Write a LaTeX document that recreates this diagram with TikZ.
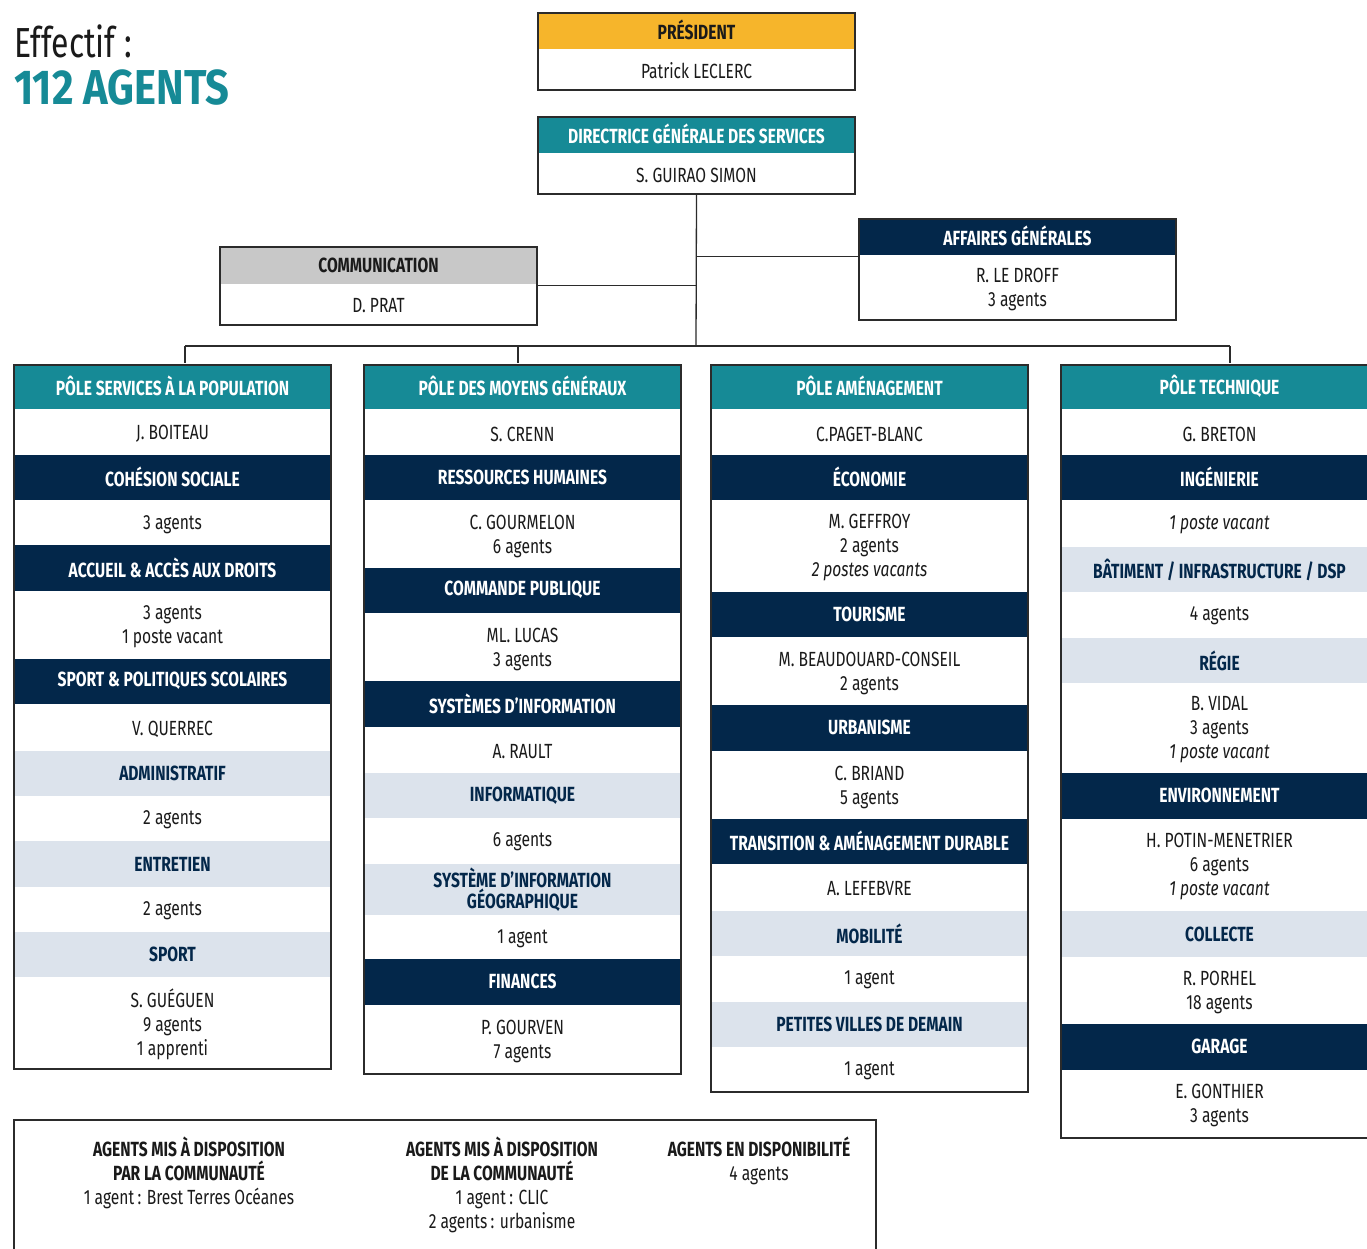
\documentclass[tikz,border=0pt]{standalone}
\usepackage{fontspec}
\setmainfont{Fira Sans}[FakeStretch=0.76]
\newfontfamily\titlefont{Fira Sans}[FakeStretch=0.85]
\definecolor{cteal}{HTML}{168A96}
\definecolor{cnavy}{HTML}{03274A}
\definecolor{clight}{HTML}{DCE3EC}
\definecolor{cyel}{HTML}{F6B52B}
\definecolor{cgrey}{HTML}{C8C8C8}
\definecolor{ctext}{HTML}{1A1A1A}
\definecolor{cline}{HTML}{2B2B2B}
\tikzset{
  rowbase/.style={inner sep=0pt, minimum width=317pt, align=center, font=\fontsize{20.5}{24}\selectfont},
  tealrow/.style={rowbase, fill=cteal, text=white, font=\fontsize{20.5}{24}\selectfont\bfseries, yshift=1.5pt},
  navyrow/.style={rowbase, fill=cnavy, text=white, font=\fontsize{20.5}{24}\selectfont\bfseries, yshift=1.5pt},
  lightrow/.style={rowbase, fill=clight, text=cnavy, font=\fontsize{20.5}{21}\selectfont\bfseries},
  whiterow/.style={rowbase, fill=white, text=ctext, yshift=-1pt},
  yelrow/.style={rowbase, fill=cyel, text=ctext, font=\fontsize{20.5}{24}\selectfont\bfseries, yshift=1.5pt},
  greyrow/.style={rowbase, fill=cgrey, text=ctext, font=\fontsize{20.5}{24}\selectfont\bfseries, yshift=1pt},
  frame/.style={draw=cline, line width=1.3pt},
  conn/.style={draw=cline, line width=1.3pt},
  foot/.style={inner sep=0pt, anchor=north, align=center, text=ctext, font=\fontsize{20.5}{24}\selectfont}
}
\newcommand\orow[6]{\node[#2, minimum height={(#5-#4)*1pt}] (#1) at ({#3+158.5},{(#4+#5)/2}) {#6};}
\begin{document}
\begin{tikzpicture}[x=1pt,y=-1pt]
\clip (0,0) rectangle (1367,1248);
\fill[white] (0,0) rectangle (1367,1248);

% title
\node[anchor=base west, inner sep=0pt, font=\fontsize{42}{48}\selectfont, text=ctext] (eff) at (14,57) {Effectif :};
\node[anchor=base west, inner sep=0pt, font=\titlefont\fontsize{49}{54}\selectfont\bfseries, text=cteal] (tot) at (14,104) {112 AGENTS};

% president
\orow{pres}{yelrow}{538}{13}{50}{PRÉSIDENT}
\orow{presn}{whiterow}{538}{50}{90}{Patrick LECLERC}
\draw[frame] (538,13) rectangle (855,90);
% DGS
\orow{dgs}{tealrow}{538}{117}{154}{DIRECTRICE GÉNÉRALE DES SERVICES}
\orow{dgsn}{whiterow}{538}{154}{194}{S. GUIRAO SIMON}
\draw[frame] (538,117) rectangle (855,194);
% communication
\orow{com}{greyrow}{220}{247}{285}{COMMUNICATION}
\orow{comn}{whiterow}{220}{285}{325}{D. PRAT}
\draw[frame] (220,247) rectangle (537,325);
% affaires generales
\orow{ag}{navyrow}{859}{219}{256}{AFFAIRES GÉNÉRALES}
\orow{agn}{whiterow}{859}{256}{320}{R. LE DROFF\\3 agents}
\draw[frame] (859,219) rectangle (1176,320);

% column 1
\orow{p1}{tealrow}{14}{365}{410}{PÔLE SERVICES À LA POPULATION}
\orow{p1a}{whiterow}{14}{410}{456}{J. BOITEAU}
\orow{p1b}{navyrow}{14}{456}{501}{COHÉSION SOCIALE}
\orow{p1c}{whiterow}{14}{501}{546}{3 agents}
\orow{p1d}{navyrow}{14}{546}{592}{ACCUEIL \& ACCÈS AUX DROITS}
\orow{p1e}{whiterow}{14}{592}{660}{3 agents\\1 poste vacant}
\orow{p1f}{navyrow}{14}{660}{705}{SPORT \& POLITIQUES SCOLAIRES}
\orow{p1g}{whiterow}{14}{705}{751}{V. QUERREC}
\orow{p1h}{lightrow}{14}{751}{796}{ADMINISTRATIF}
\orow{p1i}{whiterow}{14}{796}{841}{2 agents}
\orow{p1j}{lightrow}{14}{841}{887}{ENTRETIEN}
\orow{p1k}{whiterow}{14}{887}{932}{2 agents}
\orow{p1l}{lightrow}{14}{932}{977}{SPORT}
\orow{p1m}{whiterow}{14}{977}{1069}{S. GUÉGUEN\\9 agents\\1 apprenti}
\draw[frame] (14,365) rectangle (331,1069);

% column 2
\orow{p2}{tealrow}{364}{365}{410}{PÔLE DES MOYENS GÉNÉRAUX}
\orow{p2a}{whiterow}{364}{410}{456}{S. CRENN}
\orow{p2b}{navyrow}{364}{456}{501}{RESSOURCES HUMAINES}
\orow{p2c}{whiterow}{364}{501}{569}{C. GOURMELON\\6 agents}
\orow{p2d}{navyrow}{364}{569}{614}{COMMANDE PUBLIQUE}
\orow{p2e}{whiterow}{364}{614}{682}{ML. LUCAS\\3 agents}
\orow{p2f}{navyrow}{364}{682}{728}{SYSTÈMES D’INFORMATION}
\orow{p2g}{whiterow}{364}{728}{773}{A. RAULT}
\orow{p2h}{lightrow}{364}{773}{818}{INFORMATIQUE}
\orow{p2i}{whiterow}{364}{818}{864}{6 agents}
\orow{p2j}{lightrow}{364}{864}{915}{SYSTÈME D’INFORMATION\\GÉOGRAPHIQUE}
\orow{p2k}{whiterow}{364}{915}{960}{1 agent}
\orow{p2l}{navyrow}{364}{960}{1006}{FINANCES}
\orow{p2m}{whiterow}{364}{1006}{1074}{P. GOURVEN\\7 agents}
\draw[frame] (364,365) rectangle (681,1074);

% column 3
\orow{p3}{tealrow}{711}{365}{410}{PÔLE AMÉNAGEMENT}
\orow{p3a}{whiterow}{711}{410}{456}{C.PAGET-BLANC}
\orow{p3b}{navyrow}{711}{456}{501}{ÉCONOMIE}
\orow{p3c}{whiterow}{711}{501}{593}{M. GEFFROY\\2 agents\\\textit{2 postes vacants}}
\orow{p3d}{navyrow}{711}{593}{638}{TOURISME}
\orow{p3e}{whiterow}{711}{638}{706}{M. BEAUDOUARD-CONSEIL\\2 agents}
\orow{p3f}{navyrow}{711}{706}{752}{URBANISME}
\orow{p3g}{whiterow}{711}{752}{820}{C. BRIAND\\5 agents}
\orow{p3h}{navyrow}{711}{820}{865}{TRANSITION \& AMÉNAGEMENT DURABLE}
\orow{p3i}{whiterow}{711}{865}{911}{A. LEFEBVRE}
\orow{p3j}{lightrow}{711}{911}{956}{MOBILITÉ}
\orow{p3k}{whiterow}{711}{956}{1002}{1 agent}
\orow{p3l}{lightrow}{711}{1002}{1047}{PETITES VILLES DE DEMAIN}
\orow{p3m}{whiterow}{711}{1047}{1092}{1 agent}
\draw[frame] (711,365) rectangle (1028,1092);

% column 4
\orow{p4}{tealrow}{1061}{365}{410}{PÔLE TECHNIQUE}
\orow{p4a}{whiterow}{1061}{410}{456}{G. BRETON}
\orow{p4b}{navyrow}{1061}{456}{501}{INGÉNIERIE}
\orow{p4c}{whiterow}{1061}{501}{547}{\textit{1 poste vacant}}
\orow{p4d}{lightrow}{1061}{547}{592}{BÂTIMENT / INFRASTRUCTURE / DSP}
\orow{p4e}{whiterow}{1061}{592}{638}{4 agents}
\orow{p4f}{lightrow}{1061}{638}{683}{RÉGIE}
\orow{p4g}{whiterow}{1061}{683}{774}{B. VIDAL\\3 agents\\\textit{1 poste vacant}}
\orow{p4h}{navyrow}{1061}{774}{820}{ENVIRONNEMENT}
\orow{p4i}{whiterow}{1061}{820}{911}{H. POTIN-MENETRIER\\6 agents\\\textit{1 poste vacant}}
\orow{p4j}{lightrow}{1061}{911}{957}{COLLECTE}
\orow{p4k}{whiterow}{1061}{957}{1025}{R. PORHEL\\18 agents}
\orow{p4l}{navyrow}{1061}{1025}{1071}{GARAGE}
\orow{p4m}{whiterow}{1061}{1071}{1138}{E. GONTHIER\\3 agents}
\draw[frame] (1061,365) rectangle (1378,1138);

% connectors
\coordinate (busC) at (696,346);
\coordinate (busL) at (185,346);
\coordinate (busM) at (518,346);
\coordinate (busR) at (1230,346);
\draw[conn] (dgsn.south) -- (busC);
\draw[conn] (comn.north east) -- (comn.north east -| busC);
\draw[conn] (agn.north west) -- (agn.north west -| busC);
\draw[conn] (busL) -- (busR);
\draw[conn] (busL) -- (busL |- p1.north);
\draw[conn] (busM) -- (busM |- p2.north);
\draw[conn] (busR) -- (busR |- p4.north);

% footer box
\draw[frame] (14,1120) rectangle (876,1270);
\node[foot] (f1) at (189,1137) {\textbf{AGENTS MIS À DISPOSITION}\\\textbf{PAR LA COMMUNAUTÉ}\\1 agent\,: Brest Terres Océanes};
\node[foot] (f2) at (502,1137) {\textbf{AGENTS MIS À DISPOSITION}\\\textbf{DE LA COMMUNAUTÉ}\\1 agent\,: CLIC\\2 agents\,: urbanisme};
\node[foot] (f3) at (759,1137) {\textbf{AGENTS EN DISPONIBILITÉ}\\4 agents};
\end{tikzpicture}
\end{document}
